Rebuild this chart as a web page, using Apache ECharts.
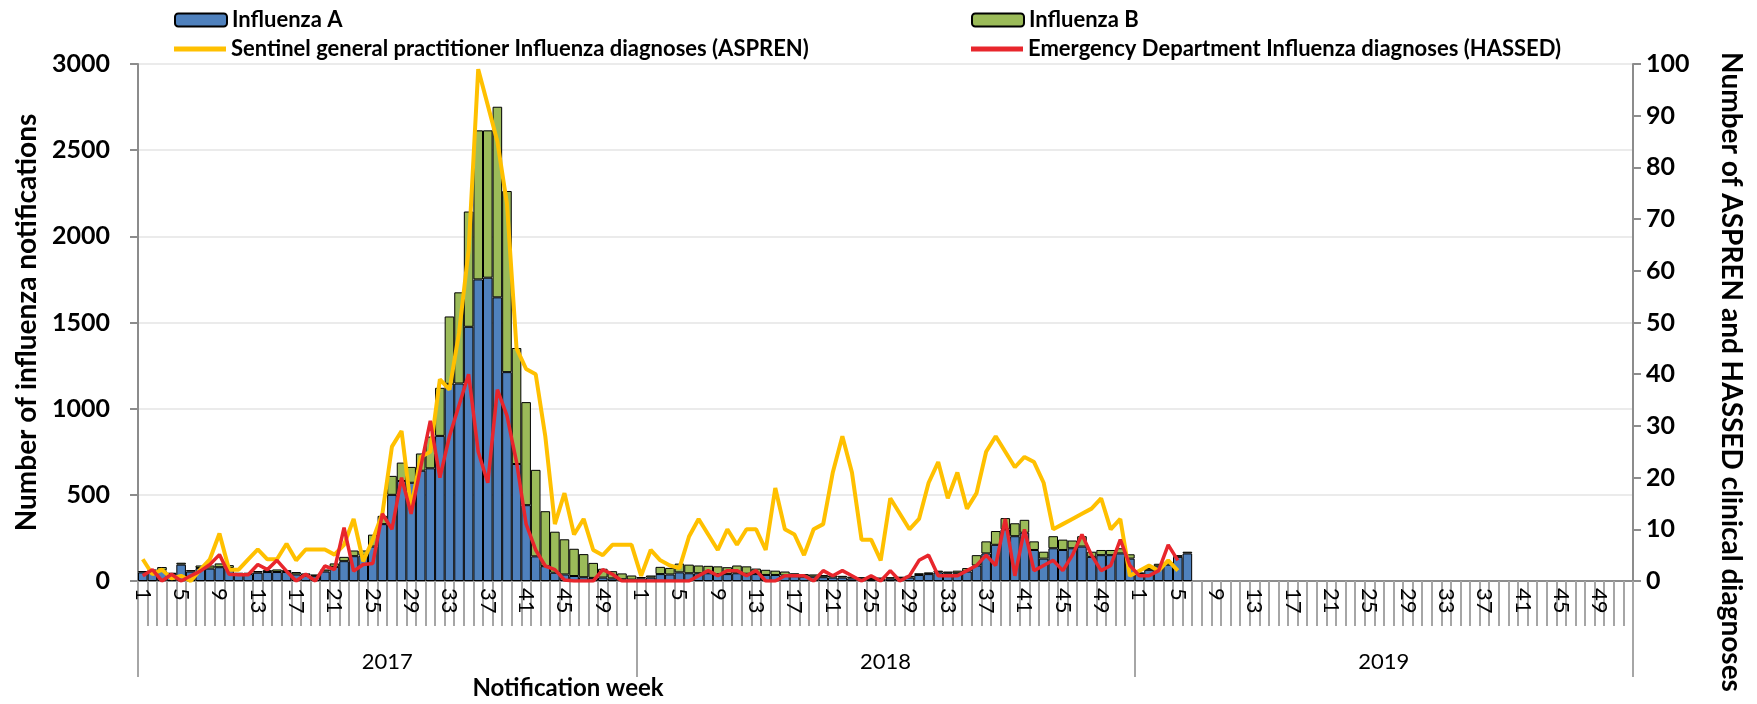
<!DOCTYPE html>
<html lang="en">
<head>
<meta charset="UTF-8" />
<title>Influenza notifications</title>
<script src="https://cdn.jsdelivr.net/npm/echarts@6.0.0/dist/echarts.min.js"></script>
<style>
  html, body { margin: 0; padding: 0; background: #fff; }
  #chart { width: 1757px; height: 704px; }
</style>
</head>
<body>
<div id="chart"></div>
<script>
// years on the lower axis level
var years = ['2017', '2018', '2019'];

// weekly notifications
var fluA2017 = [50,55,62,40,95,55,75,72,80,75, 40,40,48,52,52,52,38,32,28,55,
  82,115,144,148,200,330,500,580,570,640, 654,842,1144,1146,1475,1750,1760,1646,1212,679,
  440,143,86,48,38,29,22,18,20,15, 10,8];
var fluB2017 = [8,12,19,8,11,8,15,18,22,17, 8,8,10,11,15,11,14,12,10,12,
  20,25,33,29,69,48,110,107,92,100, 184,279,391,529,669,865,855,1106,1051,673,
  598,502,319,238,204,158,134,87,51,42, 34,24];
var fluA2018 = [15,20,40,38,50,45,45,45,40,40, 45,42,40,35,35,32,28,25,25,22,
  20,20,15,14,12,12,14,16,20,35, 40,50,45,45,55,90,160,210,300,260,
  280,180,130,190,180,190,200,140,150,150, 160,130];
var fluB2018 = [8,12,42,38,51,50,45,43,45,40, 45,43,32,30,25,23,17,15,13,13,
  12,10,10,8,8,8,8,9,10,10, 10,10,10,15,20,60,70,80,65,75,
  75,50,40,70,60,45,60,30,30,30, 30,25];
var fluA2019 = [40,65,85,95,140,160];
var fluB2019 = [10,10,15,15,10,10];

// clinical diagnoses (right axis)
var aspren2017 = [4.2,1.3,2.2,0.5,1,0,2.2,4.2,9.2,2.2, 2.2,4.2,6.1,4.2,4.2,7.2,4,6.1,6.1,6.1,
  5.1,7,12,3.8,8,13, 26,29,14,24,25,39,37,48,64,99,
  92,85,73,45,41,40,28,11,17,9, 12,6,5,7,7,7];
var aspren2018 = [1,6,4,3,2.5,8.6,12,9,6,10, 7,10,10,6,18,10,9,5,10,11,
  21,28,21,8,8,4,16,13,10,12, 19,23,16,21,14,17,25,28,25,22,
  24,23,19,10,11,12,13,14,16,10, 12,1];
var aspren2019 = [2,3,2,4,2];
var hassed2017 = [1,2.2,0,1.3,0,1,1.9,3.2,5.1,1.3, 1.2,1.2,3.2,2.2,4,1.9,0,1.3,0,2.9,
  2.2,10.3,1.9,3.2,3.4,13, 10,20,13,22,31,20,28,34,40,25,
  19,37,32,23,11,6,2.9,2.2,0.2,0, 0,0,2.2,1.3,0,0];
var hassed2018 = [0,0,0,0,0,0,1,2,1,2, 2,1,2,0,0,1,1,1,0,2,
  1,2,1,0,1,0,2,0,1,4, 5,1,1,1,2,3,5,3,12,1,
  10,2,3,4,2,5,9,5,2,3, 8,3];
var hassed2019 = [1,1,2,7,4];

var weekLabels = [];
years.forEach(function () {
  for (var w = 1; w <= 52; w++) weekLabels.push(String(w));
});

function pad(arr) {
  var out = arr.slice();
  while (out.length < weekLabels.length) out.push(null);
  return out;
}

var fluA = pad(fluA2017.concat(fluA2018, fluA2019));
var fluB = pad(fluB2017.concat(fluB2018, fluB2019));
var aspren = pad(aspren2017.concat(aspren2018, aspren2019));
var hassed = pad(hassed2017.concat(hassed2018, hassed2019));

var gray = '#8c8c8c';
var tickGray = '#a6a6a6';
var font = 'Lato';

var legendText = { fontFamily: font, fontWeight: 'bold', fontSize: 22, color: '#000' };

var chart = echarts.init(document.getElementById('chart'));
var option = {
  animation: false,
  textStyle: { fontFamily: font },
  grid: { left: 138, right: 124, top: 64, bottom: 123 },
  legend: [
    { data: ['Influenza A'], left: 169, top: 4, itemWidth: 52, itemHeight: 13, selectedMode: false, textStyle: legendText },
    { data: ['Influenza B'], left: 966, top: 4, itemWidth: 52, itemHeight: 13, selectedMode: false, textStyle: legendText },
    { data: ['Sentinel general practitioner Influenza diagnoses (ASPREN)'], left: 169, top: 33, icon: 'rect',
      itemWidth: 52, itemHeight: 5, selectedMode: false, textStyle: legendText },
    { data: ['Emergency Department Influenza diagnoses (HASSED)'], left: 966, top: 33, icon: 'rect',
      itemWidth: 52, itemHeight: 5, selectedMode: false, textStyle: legendText }
  ],
  xAxis: [
    {
      type: 'category',
      data: weekLabels,
      boundaryGap: true,
      axisLine: { lineStyle: { color: gray, width: 2 } },
      axisTick: { show: true, interval: 0, length: 45, lineStyle: { color: tickGray, width: 2 } },
      axisLabel: { interval: 3, rotate: -90, margin: 7, fontSize: 22, color: '#000', fontFamily: font },
      splitLine: { show: false }
    },
    {
      type: 'category',
      data: years,
      position: 'bottom',
      offset: 0,
      boundaryGap: true,
      axisLine: { show: false },
      axisTick: { show: true, interval: 0, length: 96, lineStyle: { color: tickGray, width: 2 } },
      axisLabel: { margin: 70, fontSize: 22, color: '#000', fontFamily: font },
      splitLine: { show: false }
    }
  ],
  yAxis: [
    {
      type: 'value',
      position: 'left',
      min: 0, max: 3000, interval: 500,
      name: 'Number of influenza notifications',
      nameLocation: 'middle',
      nameRotate: 90,
      nameGap: 94,
      nameTextStyle: { fontSize: 28, fontWeight: 'bold', color: '#000', fontFamily: font },
      axisLine: { show: true, lineStyle: { color: gray, width: 2 } },
      axisTick: { show: true, length: 8, lineStyle: { color: gray, width: 2 } },
      axisLabel: { margin: 28, fontSize: 25, fontWeight: 'bold', color: '#000', fontFamily: font,
        formatter: function (v) { return String(v); } },
      splitLine: { show: true, lineStyle: { color: '#ebebeb', width: 2 } }
    },
    {
      type: 'value',
      position: 'right',
      min: 0, max: 100, interval: 10,
      axisLine: { show: true, lineStyle: { color: gray, width: 2 } },
      axisTick: { show: true, length: 8, lineStyle: { color: gray, width: 2 } },
      axisLabel: { margin: 13, fontSize: 25, fontWeight: 'bold', color: '#000', fontFamily: font },
      splitLine: { show: false }
    }
  ],
  graphic: [
    {
      type: 'text',
      x: 568, y: 688,
      style: { text: 'Notification week', font: 'bold 24px Lato', fill: '#000', align: 'center', verticalAlign: 'middle' }
    },
    {
      type: 'text',
      x: 1731, y: 372,
      rotation: -Math.PI / 2,
      style: { text: 'Number of ASPREN and HASSED clinical diagnoses', font: 'bold 28px Lato', fill: '#000',
        align: 'center', verticalAlign: 'middle' }
    }
  ],
  series: [
    {
      name: 'Influenza A', type: 'bar', stack: 'flu', data: fluA,
      barCategoryGap: '0%',
      itemStyle: { color: '#4f81bd', borderColor: '#000', borderWidth: 1 }
    },
    {
      name: 'Influenza B', type: 'bar', stack: 'flu', data: fluB,
      barCategoryGap: '0%',
      itemStyle: { color: '#9bbb59', borderColor: '#000', borderWidth: 1 }
    },
    {
      name: 'Sentinel general practitioner Influenza diagnoses (ASPREN)', type: 'line', yAxisIndex: 1,
      data: aspren, symbol: 'none', z: 3,
      lineStyle: { color: '#ffc000', width: 4 }, itemStyle: { color: '#ffc000' }
    },
    {
      name: 'Emergency Department Influenza diagnoses (HASSED)', type: 'line', yAxisIndex: 1,
      data: hassed, symbol: 'none', z: 4,
      lineStyle: { color: '#e8262c', width: 3.5 }, itemStyle: { color: '#e8262c' }
    }
  ]
};
chart.setOption(option);
</script>
</body>
</html>
